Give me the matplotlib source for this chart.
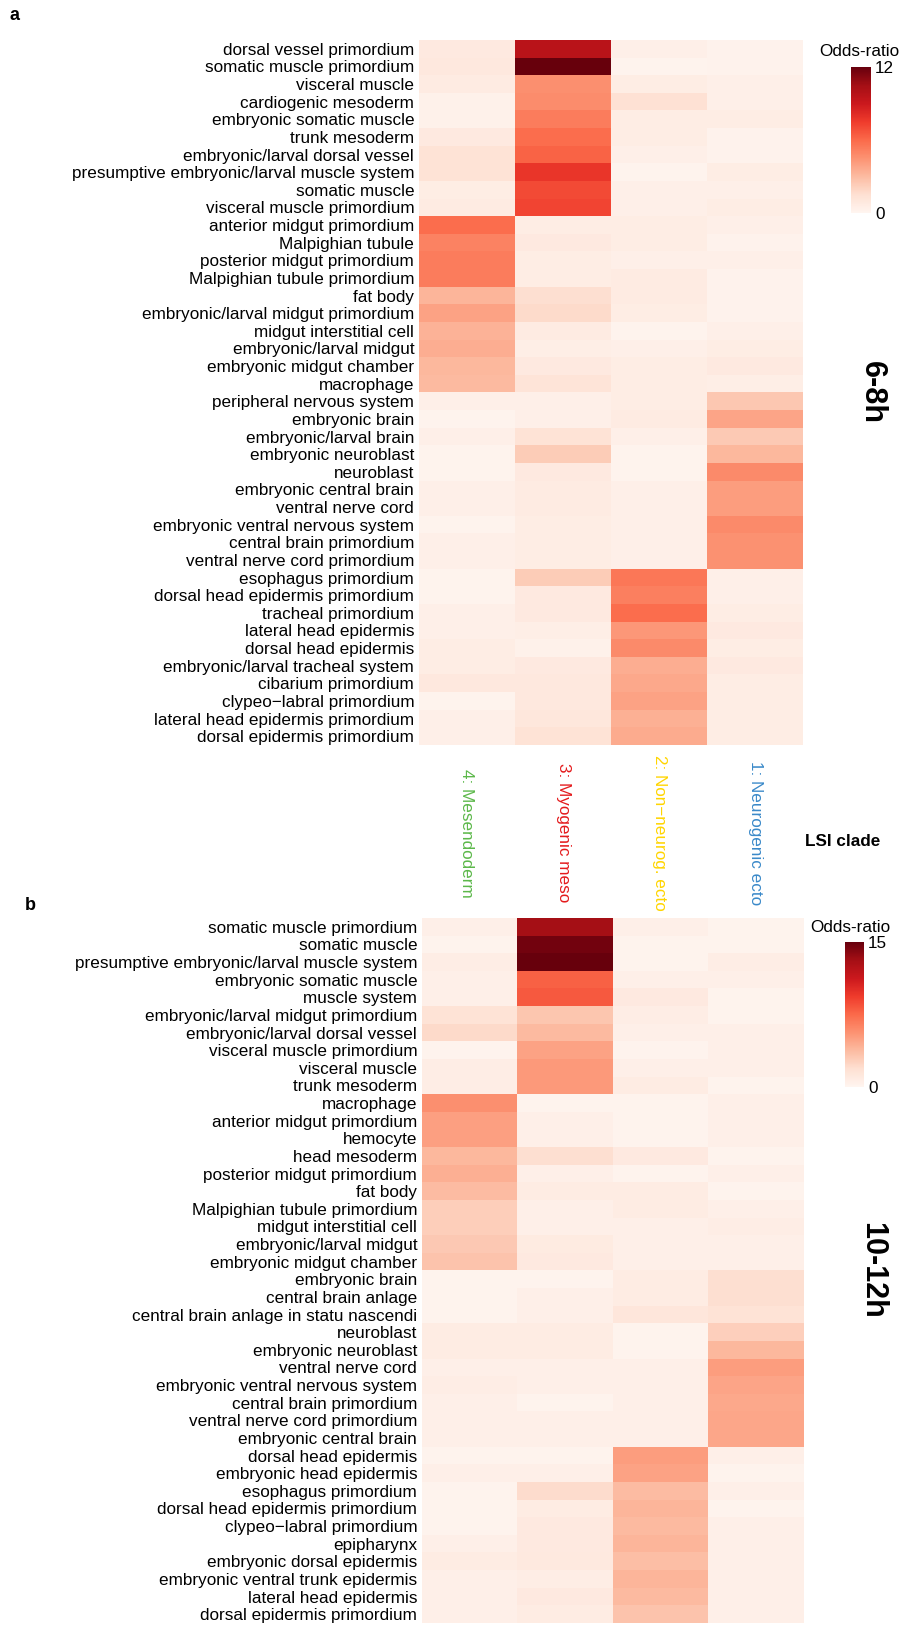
import matplotlib
matplotlib.use("Agg")
import matplotlib.pyplot as plt
import numpy as np

plt.rcParams['font.family'] = ['Liberation Sans', 'DejaVu Sans']

# clades (columns), same order in both panels
clades = ['4: Mesendoderm', '3: Myogenic meso', '2: Non\u2212neurog. ecto', '1: Neurogenic ecto']
clade_colors = ['#5cb84a', '#e41a1c', '#ffd500', '#3a89c9']

# panel a: 6-8h
terms_a = [
    'dorsal vessel primordium', 'somatic muscle primordium', 'visceral muscle',
    'cardiogenic mesoderm', 'embryonic somatic muscle', 'trunk mesoderm',
    'embryonic/larval dorsal vessel', 'presumptive embryonic/larval muscle system',
    'somatic muscle', 'visceral muscle primordium', 'anterior midgut primordium',
    'Malpighian tubule', 'posterior midgut primordium', 'Malpighian tubule primordium',
    'fat body', 'embryonic/larval midgut primordium', 'midgut interstitial cell',
    'embryonic/larval midgut', 'embryonic midgut chamber', 'macrophage',
    'peripheral nervous system', 'embryonic brain', 'embryonic/larval brain',
    'embryonic neuroblast', 'neuroblast', 'embryonic central brain', 'ventral nerve cord',
    'embryonic ventral nervous system', 'central brain primordium',
    'ventral nerve cord primordium', 'esophagus primordium',
    'dorsal head epidermis primordium', 'tracheal primordium', 'lateral head epidermis',
    'dorsal head epidermis', 'embryonic/larval tracheal system', 'cibarium primordium',
    'clypeo\u2212labral primordium', 'lateral head epidermis primordium',
    'dorsal epidermis primordium',
]
odds_a = np.array([
    [0.8, 9.7, 0.4, 0.2],
    [0.9, 12.0, 0.15, 0.2],
    [0.7, 4.6, 0.6, 0.4],
    [0.3, 4.7, 1.4, 0.4],
    [0.3, 5.3, 0.6, 0.6],
    [0.8, 5.9, 0.6, 0.2],
    [1.3, 6.2, 0.4, 0.2],
    [1.3, 7.7, 0.15, 0.6],
    [0.6, 7.0, 0.4, 0.4],
    [0.7, 7.2, 0.4, 0.6],
    [5.9, 0.6, 0.6, 0.4],
    [5.1, 0.8, 0.6, 0.2],
    [5.3, 0.6, 0.4, 0.4],
    [5.3, 0.6, 0.7, 0.2],
    [3.2, 1.5, 0.7, 0.2],
    [3.9, 1.7, 0.6, 0.2],
    [3.3, 0.7, 0.15, 0.4],
    [3.5, 0.5, 0.4, 0.6],
    [3.1, 0.8, 0.6, 0.8],
    [3.0, 1.2, 0.6, 0.5],
    [0.4, 0.4, 0.6, 2.5],
    [0.15, 0.4, 0.7, 3.8],
    [0.4, 1.3, 0.4, 2.4],
    [0.15, 2.3, 0.15, 3.1],
    [0.15, 0.8, 0.15, 4.8],
    [0.4, 0.7, 0.4, 4.1],
    [0.4, 0.7, 0.4, 4.1],
    [0.15, 0.6, 0.4, 4.8],
    [0.4, 0.6, 0.4, 4.5],
    [0.4, 0.6, 0.4, 4.5],
    [0.15, 2.3, 5.5, 0.4],
    [0.15, 0.8, 5.2, 0.4],
    [0.4, 0.8, 5.9, 0.6],
    [0.4, 0.5, 4.3, 0.8],
    [0.6, 0.3, 4.8, 0.6],
    [0.6, 0.8, 3.5, 0.8],
    [0.9, 0.9, 3.7, 0.6],
    [0.15, 0.9, 3.9, 0.6],
    [0.4, 1.0, 3.4, 0.6],
    [0.4, 1.3, 3.6, 0.6],
])

# panel b: 10-12h
terms_b = [
    'somatic muscle primordium', 'somatic muscle', 'presumptive embryonic/larval muscle system',
    'embryonic somatic muscle', 'muscle system', 'embryonic/larval midgut primordium',
    'embryonic/larval dorsal vessel', 'visceral muscle primordium', 'visceral muscle',
    'trunk mesoderm', 'macrophage', 'anterior midgut primordium', 'hemocyte',
    'head mesoderm', 'posterior midgut primordium', 'fat body',
    'Malpighian tubule primordium', 'midgut interstitial cell', 'embryonic/larval midgut',
    'embryonic midgut chamber', 'embryonic brain', 'central brain anlage',
    'central brain anlage in statu nascendi', 'neuroblast', 'embryonic neuroblast',
    'ventral nerve cord', 'embryonic ventral nervous system', 'central brain primordium',
    'ventral nerve cord primordium', 'embryonic central brain', 'dorsal head epidermis',
    'embryonic head epidermis', 'esophagus primordium', 'dorsal head epidermis primordium',
    'clypeo\u2212labral primordium', 'epipharynx', 'embryonic dorsal epidermis',
    'embryonic ventral trunk epidermis', 'lateral head epidermis',
    'dorsal epidermis primordium',
]
odds_b = np.array([
    [0.5, 13.1, 0.5, 0.2],
    [0.2, 14.6, 0.2, 0.2],
    [0.7, 15.0, 0.2, 0.7],
    [0.5, 7.8, 0.5, 0.5],
    [0.5, 8.2, 1.0, 0.2],
    [1.6, 3.2, 0.7, 0.2],
    [2.2, 3.8, 0.5, 0.5],
    [0.2, 4.9, 0.2, 0.5],
    [0.7, 5.3, 0.5, 0.5],
    [0.7, 5.3, 0.8, 0.2],
    [5.8, 0.2, 0.2, 0.5],
    [5.0, 0.5, 0.2, 0.5],
    [5.0, 0.5, 0.2, 0.5],
    [3.9, 1.9, 1.0, 0.2],
    [4.3, 0.5, 0.2, 0.5],
    [3.7, 0.8, 0.8, 0.2],
    [2.8, 0.5, 0.8, 0.5],
    [2.8, 0.5, 0.5, 0.7],
    [3.1, 0.9, 0.5, 0.5],
    [3.3, 1.0, 0.5, 0.5],
    [0.2, 0.2, 0.8, 1.9],
    [0.2, 0.5, 0.8, 1.9],
    [0.2, 0.5, 1.3, 1.6],
    [0.8, 0.8, 0.2, 2.7],
    [0.8, 0.8, 0.2, 3.9],
    [0.5, 0.5, 0.5, 5.1],
    [0.7, 0.5, 0.5, 4.8],
    [0.5, 0.2, 0.5, 4.6],
    [0.5, 0.5, 0.5, 4.7],
    [0.5, 0.5, 0.5, 4.7],
    [0.2, 0.2, 5.1, 0.5],
    [0.5, 0.5, 4.9, 0.2],
    [0.2, 2.1, 3.7, 0.5],
    [0.2, 0.8, 4.0, 0.2],
    [0.2, 1.0, 3.8, 0.5],
    [0.5, 1.0, 4.0, 0.5],
    [0.8, 1.1, 3.6, 0.5],
    [0.5, 0.7, 4.0, 0.5],
    [0.5, 1.0, 3.8, 0.5],
    [0.5, 0.8, 3.3, 0.5],
])

W, H = 901, 1625
fig = plt.figure(figsize=(W / 100, H / 100), dpi=100)


def fx(px):
    return px / W


def fy(py):
    return 1 - py / H


def panel(terms, odds, vmax, x0, x1, y0, y1, cbox, title_xy, period):
    ax = fig.add_axes([fx(x0), fy(y1), fx(x1 - x0), (y1 - y0) / H])
    im = ax.imshow(odds, cmap='Reds', vmin=0, vmax=vmax, aspect='auto',
                   interpolation='nearest')
    ax.set_yticks(np.arange(len(terms)))
    ax.set_yticklabels(terms, fontsize=12.3)
    ax.tick_params(axis='y', length=0, pad=3.5)
    ax.set_xticks([])
    for s in ax.spines.values():
        s.set_visible(False)

    cx0, cy0, cx1, cy1 = cbox
    cax = fig.add_axes([fx(cx0), fy(cy1), fx(cx1 - cx0), (cy1 - cy0) / H])
    cb = fig.colorbar(im, cax=cax, ticks=[0, vmax])
    cb.outline.set_visible(False)
    cb.ax.tick_params(length=0, labelsize=12.3, pad=3)
    fig.text(fx(title_xy[0]), fy(title_xy[1]), 'Odds-ratio', ha='right',
             va='center', fontsize=12.3)

    fig.text(fx(872), fy((y0 + y1) / 2), period, rotation=270, ha='center',
             va='center', fontsize=22, fontweight='bold')
    return ax


ax_a = panel(terms_a, odds_a, 12, 419, 803, 40, 745, (851, 67, 871, 213),
             (899, 52), '6-8h')
ax_b = panel(terms_b, odds_b, 15, 422, 803, 918, 1623, (845, 942, 864, 1087),
             (890, 927), '10-12h')

# clade labels between the panels
for i, (name, c) in enumerate(zip(clades, clade_colors)):
    x_disp = ax_a.transData.transform((i, 0))[0]
    fig.text(x_disp / W, fy(833), name, rotation=270, ha='center', va='center',
             fontsize=12.3, color=c)
fig.text(fx(843), fy(842), 'LSI clade', ha='center', va='center', fontsize=12.3,
         fontweight='bold')

fig.text(fx(10), fy(16), 'a', fontsize=13, fontweight='bold', va='center')
fig.text(fx(25), fy(905), 'b', fontsize=13, fontweight='bold', va='center')

fig.savefig('out.png', dpi=100)
